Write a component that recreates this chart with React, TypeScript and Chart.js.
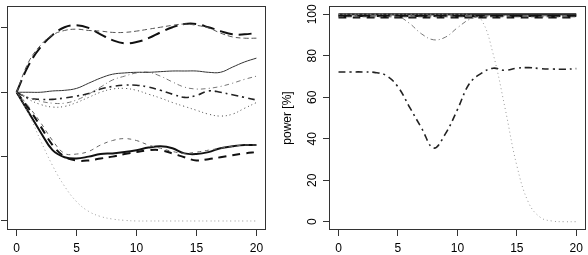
import React, { useEffect, useRef } from 'react';
import { Chart, registerables } from 'chart.js';

Chart.register(...registerables);

const FONT = '"Liberation Sans", Arial, Helvetica, sans-serif';

const xValues = [0, 1, 2, 3, 4, 5, 6, 7, 8, 9, 10, 11, 12, 13, 14, 15, 16, 17, 18, 19, 20];
const xTicks = [0, 5, 10, 15, 20];
const leftYTicks = [-2, -1, 0, 1];
const rightYTicks = [0, 20, 40, 60, 80, 100];
const rightYTitle = 'power [%]';

// left panel (estimates)
const leftUpperLongdash = [0, 0.42, 0.7, 0.89, 1.01, 1.04, 1.0, 0.9, 0.81, 0.76, 0.78, 0.84, 0.93, 1.01, 1.06, 1.06, 1.01, 0.95, 0.9, 0.9, 0.92];
const leftUpperDashed = [0, 0.47, 0.73, 0.89, 0.96, 0.98, 0.96, 0.95, 0.93, 0.93, 0.95, 0.98, 1.01, 1.04, 1.06, 1.04, 1.0, 0.92, 0.86, 0.84, 0.84];
const leftMidSolid = [0, 0, 0, 0.02, 0.03, 0.06, 0.14, 0.22, 0.28, 0.3, 0.31, 0.31, 0.32, 0.33, 0.33, 0.33, 0.31, 0.31, 0.39, 0.47, 0.53];
const leftMidTwodash = [0, -0.08, -0.14, -0.17, -0.17, -0.12, -0.03, 0.08, 0.19, 0.25, 0.3, 0.31, 0.25, 0.16, 0.08, 0.05, 0.06, 0.09, 0.14, 0.2, 0.25];
const leftMidDotdash = [0, -0.09, -0.11, -0.11, -0.09, -0.06, -0.02, 0.05, 0.09, 0.11, 0.11, 0.08, 0.03, -0.03, -0.08, -0.05, 0.02, 0.0, -0.04, -0.08, -0.12];
const leftMidDotted = [0, -0.11, -0.19, -0.23, -0.22, -0.16, -0.08, 0, 0.05, 0.06, 0.03, -0.03, -0.09, -0.16, -0.22, -0.28, -0.34, -0.37, -0.34, -0.25, -0.16];
const leftLowSolid = [0, -0.31, -0.62, -0.9, -1.01, -1.03, -1.0, -0.96, -0.95, -0.93, -0.9, -0.86, -0.84, -0.87, -0.95, -0.96, -0.93, -0.87, -0.84, -0.82, -0.82];
const leftLowDashed = [0, -0.25, -0.53, -0.82, -1.0, -1.06, -1.06, -1.03, -1.0, -0.96, -0.93, -0.9, -0.9, -0.95, -1.01, -1.06, -1.04, -1.01, -0.98, -0.95, -0.93];
const leftLowThinDashed = [0, -0.22, -0.47, -0.75, -0.95, -0.96, -0.92, -0.82, -0.75, -0.72, -0.75, -0.82, -0.87, -0.92, -0.95, -0.93, -0.9, -0.87, -0.84, -0.82, -0.82];
const leftGrayDotted = [0, -0.33, -0.75, -1.14, -1.46, -1.7, -1.85, -1.93, -1.97, -1.99, -2, -2, -2, -2, -2, -2, -2, -2, -2, -2, -2];

// right panel: power [%]
const rightLongdash = [99.2, 99.2, 99.2, 99.2, 99.2, 99.2, 99.2, 99.2, 99.2, 99.2, 99.2, 99.2, 99.2, 99.2, 99.2, 99.2, 99.2, 99.2, 99.2, 99.2, 99.2];
const rightDashed = [98.8, 98.8, 98.8, 98.8, 98.8, 98.8, 98.8, 98.8, 98.8, 98.8, 98.8, 98.8, 98.8, 98.8, 98.8, 98.8, 98.8, 98.8, 98.8, 98.8, 98.8];
const rightThinSolid = [99.8, 99.8, 99.8, 99.8, 99.8, 99.8, 99.8, 99.8, 99.8, 99.8, 99.8, 99.8, 99.8, 99.8, 99.8, 99.8, 99.8, 99.8, 99.8, 99.8, 99.8];
const rightTwodash = [100, 100, 100, 100, 100, 99.2, 95.5, 90.5, 87.7, 89, 93.5, 97.5, 99, 99.3, 99.3, 99.3, 99.3, 99.3, 99.3, 99.3, 99.3];
const rightDotdash = [72.2, 72.2, 72.2, 72, 70.5, 65, 55, 45, 35.5, 42.5, 54, 66.5, 71.5, 74, 73, 74, 74.3, 73.8, 73.6, 73.5, 73.8];
const rightDotted = [99.6, 99.6, 99.6, 99.6, 99.6, 99.6, 99.6, 99.6, 99.6, 99.6, 99.6, 99.6, 99.6, 99.6, 99.6, 99.6, 99.6, 99.6, 99.6, 99.6, 99.6];
const rightSolid = [100, 100, 100, 100, 100, 100, 100, 100, 100, 100, 100, 100, 100, 100, 100, 100, 100, 100, 100, 100, 100];
const rightThickDashed = [98.5, 98.5, 98.5, 98.5, 98.5, 98.5, 98.5, 98.5, 98.5, 98.5, 98.5, 98.5, 98.5, 98.5, 98.5, 98.5, 98.5, 98.5, 98.5, 98.5, 98.5];
const rightThinDashed = [99.5, 99.5, 99.5, 99.5, 99.5, 99.5, 99.5, 99.5, 99.5, 99.5, 99.5, 99.5, 99.5, 99.5, 99.5, 99.5, 99.5, 99.5, 99.5, 99.5, 99.5];
const rightGrayDotted = [100, 100, 100, 100, 100, 100, 100, 100, 100, 100, 100, 99.8, 97.5, 81, 55, 27, 9, 2, 0.3, 0, 0];

type Style = { color: string; width: number; dash: number[] };
const STYLE: Record<string, Style> = {
  upperLongdash: { color: '#111', width: 2, dash: [13, 6] },
  upperDashed: { color: '#555', width: 1, dash: [5, 3] },
  midSolid: { color: '#333', width: 1, dash: [] },
  midTwodash: { color: '#777', width: 1, dash: [1, 3, 5, 3] },
  midDotdash: { color: '#222', width: 1.6, dash: [7, 4, 2, 4] },
  midDotted: { color: '#444', width: 1, dash: [1, 3] },
  lowSolid: { color: '#111', width: 2, dash: [] },
  lowDashed: { color: '#111', width: 2, dash: [8, 6] },
  lowThinDashed: { color: '#666', width: 1, dash: [4, 4] },
  grayDotted: { color: '#999', width: 1, dash: [1, 3] },
};

function ds(values: number[], key: string) {
  const s = STYLE[key];
  return {
    data: values.map((y, i) => ({ x: xValues[i], y })),
    borderColor: s.color,
    borderWidth: s.width,
    borderDash: s.dash,
    tension: 0.4,
    pointRadius: 0,
    fill: false,
    borderJoinStyle: 'round' as const,
  };
}

const boxPlugin = {
  id: 'rbox',
  afterDraw(chart: any) {
    const { ctx, chartArea } = chart;
    const l = Math.round(chartArea.left) + 0.5;
    const t = Math.round(chartArea.top) + 0.5;
    const r = Math.round(chartArea.right) - 0.5;
    const b = Math.round(chartArea.bottom) - 0.5;
    ctx.save();
    ctx.strokeStyle = '#333';
    ctx.lineWidth = 1;
    ctx.setLineDash([]);
    ctx.strokeRect(l, t, r - l, b - t);
    ctx.restore();
  },
};

const rightLabelsPlugin = {
  id: 'rlabels',
  afterDraw(chart: any) {
    const { ctx, chartArea } = chart;
    const ys = chart.scales.y;
    ctx.save();
    ctx.fillStyle = '#000';
    ctx.font = `12px ${FONT}`;
    ctx.textAlign = 'center';
    ctx.textBaseline = 'middle';
    for (const v of rightYTicks) {
      const py = ys.getPixelForValue(v);
      ctx.save();
      ctx.translate(43, py);
      ctx.rotate(-Math.PI / 2);
      ctx.fillText(String(v), 0, 0);
      ctx.restore();
    }
    ctx.save();
    ctx.translate(18, (chartArea.top + chartArea.bottom) / 2);
    ctx.rotate(-Math.PI / 2);
    ctx.fillText(rightYTitle, 0, 0);
    ctx.restore();
    ctx.restore();
  },
};

function makeOptions(yMin: number, yMax: number, yTicks: number[], yWidth: number, padRight: number) {
  const grid = { drawOnChartArea: false, drawTicks: true, tickLength: 6, color: '#333', lineWidth: 1 };
  return {
    responsive: false,
    animation: false as const,
    devicePixelRatio: 1,
    layout: { padding: { left: 0, right: padRight, top: 6, bottom: 0 } },
    plugins: { legend: { display: false }, tooltip: { enabled: false } },
    scales: {
      x: {
        type: 'linear' as const,
        min: -0.8,
        max: 20.8,
        afterBuildTicks: (s: any) => {
          s.ticks = xTicks.map((v) => ({ value: v }));
        },
        afterFit: (s: any) => {
          s.height = 25;
        },
        grid,
        border: { display: false },
        ticks: {
          color: '#000',
          font: { family: FONT, size: 12 },
          padding: 5,
          maxRotation: 0,
          minRotation: 0,
          autoSkip: false,
          callback: (v: any) => String(v),
        },
      },
      y: {
        type: 'linear' as const,
        min: yMin,
        max: yMax,
        afterBuildTicks: (s: any) => {
          s.ticks = yTicks.map((v) => ({ value: v }));
        },
        afterFit: (s: any) => {
          s.width = yWidth;
        },
        grid,
        border: { display: false },
        ticks: { display: false },
      },
    },
  };
}

export default function App() {
  const leftRef = useRef<HTMLCanvasElement>(null);
  const rightRef = useRef<HTMLCanvasElement>(null);

  useEffect(() => {
    const c1 = new Chart(leftRef.current!, {
      type: 'line',
      data: {
        datasets: [
          ds(leftGrayDotted, 'grayDotted'),
          ds(leftUpperDashed, 'upperDashed'),
          ds(leftUpperLongdash, 'upperLongdash'),
          ds(leftMidSolid, 'midSolid'),
          ds(leftMidTwodash, 'midTwodash'),
          ds(leftMidDotdash, 'midDotdash'),
          ds(leftMidDotted, 'midDotted'),
          ds(leftLowThinDashed, 'lowThinDashed'),
          ds(leftLowDashed, 'lowDashed'),
          ds(leftLowSolid, 'lowSolid'),
        ],
      },
      options: makeOptions(-2.14, 1.34, leftYTicks, 7, 4) as any,
      plugins: [boxPlugin],
    });
    const c2 = new Chart(rightRef.current!, {
      type: 'line',
      data: {
        datasets: [
          ds(rightGrayDotted, 'grayDotted'),
          ds(rightDashed, 'upperDashed'),
          ds(rightLongdash, 'upperLongdash'),
          ds(rightThinSolid, 'midSolid'),
          ds(rightTwodash, 'midTwodash'),
          ds(rightDotdash, 'midDotdash'),
          ds(rightDotted, 'midDotted'),
          ds(rightThinDashed, 'lowThinDashed'),
          ds(rightThickDashed, 'lowDashed'),
          ds(rightSolid, 'lowSolid'),
        ],
      },
      options: makeOptions(-4, 104, rightYTicks, 59, 1) as any,
      plugins: [boxPlugin, rightLabelsPlugin],
    });
    return () => {
      c1.destroy();
      c2.destroy();
    };
  }, []);

  return (
    <div style={{ position: 'fixed', left: 0, top: 0, width: 588, height: 255, background: '#fff' }}>
      <canvas ref={leftRef} width={270} height={255} style={{ position: 'absolute', left: 0, top: 0 }} />
      <canvas ref={rightRef} width={318} height={255} style={{ position: 'absolute', left: 270, top: 0 }} />
    </div>
  );
}
